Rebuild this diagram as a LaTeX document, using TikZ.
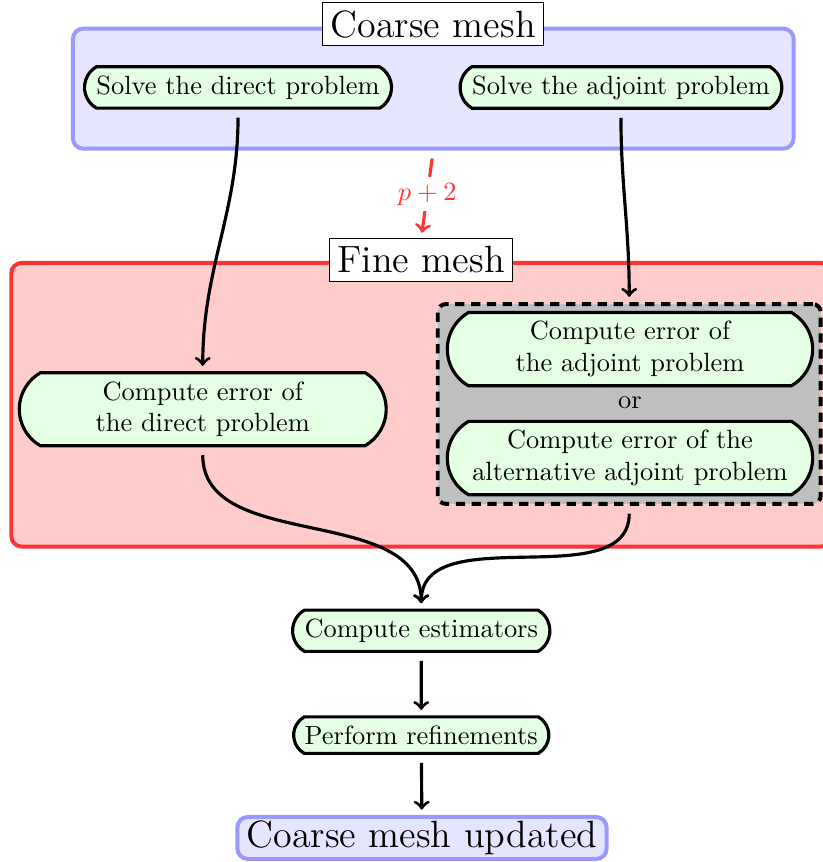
\documentclass[tikz,border=0pt]{standalone}
\usetikzlibrary{shapes.misc}

\begin{document}
\begin{tikzpicture}
    \tikzstyle{task}=[rounded rectangle, rounded rectangle arc length=120, fill=green!10, draw=black, very thick, align=center]
    \tikzstyle{mesh}=[rounded corners=4pt, line width=1.5pt]
    \tikzstyle{title}=[fill=white, draw=black, font=\Large, inner sep=3pt]
    \tikzstyle{flow}=[->, very thick, shorten <=3pt, shorten >=2pt]

    \useasboundingbox (0,0) rectangle (10.96,-11.48);

    \node[mesh, fill=blue!10, draw=blue!40, minimum width=9.6cm, minimum height=1.6cm] (coarse) at (5.77,-1.18) {};
    \node[title] (coarselabel) at (5.77,-0.32) {Coarse mesh};
    \node[task] (direct) at (3.17,-1.165) {Solve the direct problem};
    \node[task] (adjoint) at (8.27,-1.165) {Solve the adjoint problem};

    \node[mesh, fill=red!20, draw=red!80, minimum width=10.92cm, minimum height=3.78cm] (fine) at (5.61,-5.39) {};
    \node[title] (finelabel) at (5.61,-3.46) {Fine mesh};

    \node[fill=gray!50, draw=black, line width=1.5pt, dash pattern=on 3.5pt off 2.5pt, rounded corners=3pt, minimum width=5.1cm, minimum height=2.66cm] (choice) at (8.38,-5.38) {};
    \node[task, minimum width=5.12cm] (errdirect) at (2.70,-5.45) {Compute error of\\the direct problem};
    \node[task, minimum width=5.1cm] (erradjoint) at (8.39,-4.65) {Compute error of\\the adjoint problem};
    \node (or) at (8.39,-5.37) {or};
    \node[task, minimum width=5.1cm] (erralt) at (8.39,-6.10) {Compute error of the\\alternative adjoint problem};

    \node[task] (estim) at (5.61,-8.40) {Compute estimators};
    \node[task] (refine) at (5.61,-9.79) {Perform refinements};
    \node[mesh, fill=blue!10, draw=blue!40, font=\Large, inner xsep=3.5pt, inner ysep=1.5pt] (updated) at (5.62,-11.16) {Coarse mesh updated};

    \draw[flow] (direct.south) to[out=-90, in=90] (errdirect.north);
    \draw[flow] (adjoint.south) to[out=-90, in=90] (choice.north);
    \draw[flow] (errdirect.south) to[out=-90, in=90] (estim.north);
    \draw[flow] (choice.south) to[out=-90, in=90] (estim.north);
    \draw[flow] (estim) -- (refine);
    \draw[flow] (refine) -- (updated);
    \draw[flow, red!80, dash pattern=on 7pt off 3pt] (coarse.south) -- node[fill=white, inner sep=2pt] {$p+2$} (finelabel.north);
\end{tikzpicture}
\end{document}
